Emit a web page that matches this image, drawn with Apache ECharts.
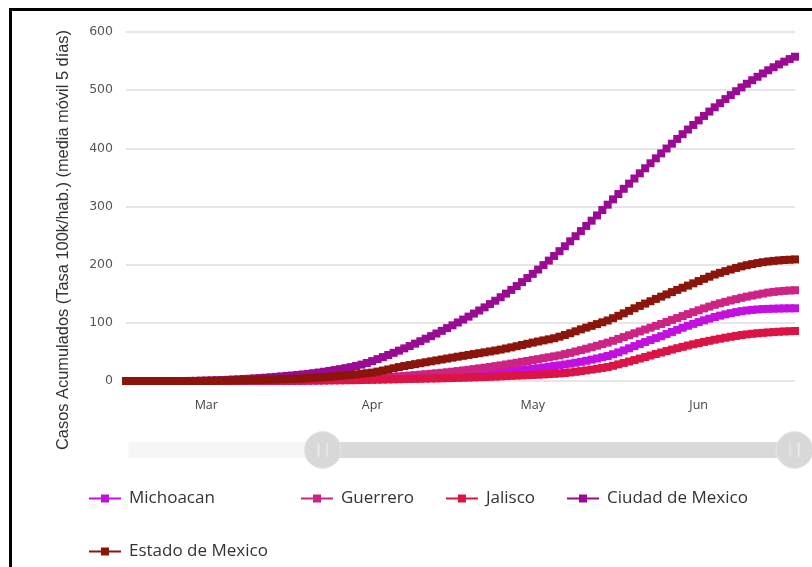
<!DOCTYPE html>
<html>
<head>
<meta charset="utf-8">
<script src="https://cdn.jsdelivr.net/npm/echarts@6/dist/echarts.min.js"></script>
<style>
html,body{margin:0;padding:0;background:#fff;overflow:hidden;width:812px;height:567px}
#frame{position:absolute;left:9px;top:8px;width:1000px;height:800px;border-left:3px solid #000;border-top:3px solid #000;box-sizing:border-box}
#chart{position:absolute;left:0;top:0;width:812px;height:567px}
</style>
</head>
<body>
<div id="frame"></div>
<div id="chart"></div>
<script>
// ---- data (daily values from 2020-02-15 to 2020-06-19) ----
const firstDate = '2019-12-26';      // first day of the full (zoomable) range
const visibleStart = '2020-02-15';
const visibleEnd = '2020-06-19';
const monthLabels = ['Jan','Feb','Mar','Apr','May','Jun','Jul','Aug','Sep','Oct','Nov','Dec'];
const seriesNames = ['Michoacan','Guerrero','Jalisco','Ciudad de Mexico','Estado de Mexico'];
const seriesColors = ['#c30fe0','#cc2384','#dc1446','#9a0a92','#8b140b'];
const yAxisTitle = 'Casos Acumulados (Tasa 100k/hab.) (media móvil 5 días)';

const michoacan = [0,0,0,0,0,0,0,0,0,0,0,0,0,0,0,0,
0.1,0.1,0.1,0.2,0.2,0.2,0.3,0.3,0.4,0.4,0.5,0.5,0.6,0.7,0.8,0.8,0.9,1.0,
1.1,1.2,1.3,1.4,1.6,1.7,1.9,2.0,2.2,2.4,2.6,2.8,3.0,
3.3,3.6,3.9,4.2,4.6,5.0,5.4,5.8,6.3,6.8,7.3,7.8,8.4,9.0,
9.6,10.3,11.0,11.7,12.4,13.1,13.8,14.5,15.2,16.0,
16.8,17.6,18.4,19.2,20.1,21.0,
22.1,23.3,24.5,25.7,27.0,
28.4,29.9,31.4,33.0,
34.8,36.7,38.7,40.8,43.0,
46.0,49.2,52.6,56.2,60.0,
63.5,67.0,70.4,73.7,77.0,
80.7,84.4,88.0,91.6,95.0,
98.2,101.3,104.3,107.2,110.0,
112.4,114.6,116.6,118.4,120.0,
121.2,122.2,123.0,123.6,124.0,
124.3,124.6,124.8,124.9,125.0];

const guerrero = [0,0,0,0,0,0,0,0,0,0,0,0,0,0,
0.1,0.1,0.1,0.2,0.2,0.2,0.3,0.3,0.4,0.4,0.5,0.6,0.7,0.8,0.9,1.0,1.1,1.2,1.4,1.5,
1.7,1.9,2.1,2.3,2.5,2.7,3.0,3.2,3.5,3.8,4.1,4.5,4.9,
5.5,6.1,6.7,7.3,8.0,
8.7,9.4,10.1,10.9,11.7,12.5,13.3,14.1,15.0,
16.0,17.1,18.2,19.3,20.5,21.7,22.9,24.2,25.5,26.9,
28.4,29.9,31.4,32.9,34.4,36.0,
37.6,39.2,40.8,42.4,44.0,
46.2,48.4,50.7,53.0,
55.5,58.0,60.6,63.3,66.0,
69.1,72.3,75.5,78.7,82.0,
85.2,88.4,91.6,94.8,98.0,
101.4,104.8,108.2,111.6,115.0,
118.3,121.6,124.8,127.9,131.0,
133.6,136.1,138.5,140.8,143.0,
145.0,146.9,148.6,150.3,152.0,
153.2,154.2,155.0,155.6,156.0];

const jalisco = [0,0,0,0,0,0,0,0,0,0,0,0,0,0,0,0,0,0,
0.1,0.1,0.1,0.1,0.2,0.2,0.2,0.2,0.3,0.3,0.3,0.4,0.4,0.4,0.5,0.5,
0.6,0.7,0.8,0.9,1.0,1.1,1.2,1.3,1.4,1.5,1.7,1.9,2.1,2.3,2.5,2.7,2.9,3.1,
3.3,3.5,3.7,3.9,4.1,4.3,4.5,4.7,4.9,5.1,5.4,5.7,6.0,6.3,6.6,6.9,7.2,7.6,8.0,
8.4,8.8,9.2,9.6,10.0,10.4,10.8,11.3,11.8,12.4,13.0,
13.8,14.7,15.8,17.0,
18.3,19.7,21.1,22.5,24.0,
26.2,28.6,31.0,33.5,36.0,
38.6,41.2,43.8,46.4,49.0,
51.5,54.0,56.4,58.7,61.0,
63.1,65.2,67.2,69.1,71.0,
72.7,74.4,76.0,77.5,79.0,
80.1,81.2,82.1,82.8,83.5,
84.1,84.7,85.2,85.6,86.0];

const ciudadMexico = [0,0,0,0,0,0,0,0,0,0,0,0,
0.1,0.2,0.4,0.6,0.9,1.2,1.6,2.0,2.5,
2.9,3.4,3.9,4.5,5.1,5.7,6.4,7.1,7.9,8.7,9.5,10.4,11.3,
12.3,13.4,14.6,15.9,17.3,18.8,20.4,22.1,23.9,25.8,28.2,31.0,34.2,
37.6,41.1,44.7,48.4,52.2,
56.1,60.1,64.2,68.4,72.7,
77.1,81.6,86.2,90.9,95.7,
100.6,105.6,110.7,115.9,121.2,
126.6,132.2,138.0,144.0,
150.2,156.6,163.2,170.0,177.0,
184.2,191.6,199.2,207.0,215.0,
223.2,231.6,240.2,248.9,257.7,
266.6,275.6,284.7,293.9,
303.1,312.3,321.4,330.4,339.3,348.1,
357.0,365.7,374.3,382.8,391.3,399.7,408.0,416.2,424.3,432.3,440.2,448.0,455.7,
463.2,470.5,477.6,484.6,491.5,498.2,504.7,511.0,517.1,523.0,528.7,
534.2,539.4,544.3,549.0,553.4,557.5];

const estadoMexico = [0,0,0,0,0,0,0,0,0,0,0,0,
0.1,0.1,0.2,
0.3,0.4,0.5,0.6,0.8,1.0,1.2,1.4,1.6,1.8,2.0,2.2,2.4,2.7,3.0,3.3,3.6,4.0,4.4,
4.9,5.4,6.0,6.6,7.3,8.0,8.8,9.6,10.5,11.4,12.4,13.4,14.5,
16.2,18.0,19.9,21.9,23.9,25.7,27.4,29.0,30.6,32.2,33.8,35.4,37.0,38.6,40.2,41.8,43.3,44.8,46.3,47.8,49.3,50.8,52.4,54.0,
55.9,57.8,59.8,61.9,64.0,66.0,67.9,69.8,71.6,73.5,
76.2,79.1,82.1,85.4,88.8,91.8,94.8,97.8,100.9,104.0,
108.0,112.1,116.3,120.6,125.0,129.1,133.1,137.1,141.1,145.0,
148.9,152.8,156.6,160.3,164.0,167.9,171.8,175.6,179.3,183.0,
186.0,188.9,191.7,194.4,197.0,199.1,201.0,202.7,204.2,205.5,
206.5,207.3,208.0,208.5,209.0];

const seriesValues = [michoacan, guerrero, jalisco, ciudadMexico, estadoMexico];

// ---- build category dates ----
function isoDay(t){ const d = new Date(t); return d.toISOString().slice(0,10); }
const DAY = 86400000;
const categories = [];
for (let t = Date.parse(firstDate + 'T00:00:00Z'); t <= Date.parse(visibleEnd + 'T00:00:00Z'); t += DAY) {
  categories.push(isoDay(t));
}
const startIdx = categories.indexOf(visibleStart);
const endIdx = categories.indexOf(visibleEnd);

const series = seriesNames.map((name, i) => ({
  name: name,
  type: 'line',
  data: seriesValues[i].map((v, k) => [categories[startIdx + k], v]),
  symbol: 'rect',
  symbolSize: 8,
  showAllSymbol: true,
  smooth: true,
  lineStyle: { width: 3, color: seriesColors[i] },
  itemStyle: { color: seriesColors[i] },
  emphasis: { disabled: true }
}));

const legendBase = {
  padding: 0,
  itemGap: 31,
  itemWidth: 32,
  itemHeight: 10,
  textStyle: { fontSize: 17, color: '#333', fontFamily: 'Open Sans', padding: [0, 0, 0, 3] }
};

const chart = echarts.init(document.getElementById('chart'), null, { renderer: 'canvas' });
chart.setOption({
  animation: false,
  backgroundColor: 'transparent',
  color: seriesColors,
  grid: { left: 126, right: 17, top: 32, bottom: 186 },
  xAxis: {
    type: 'category',
    data: categories,
    boundaryGap: false,
    axisLine: { show: false },
    axisTick: { show: false },
    splitLine: { show: false },
    axisLabel: {
      interval: (idx, val) => val.slice(8) === '01',
      formatter: (val) => monthLabels[parseInt(val.slice(5, 7), 10) - 1],
      color: '#444',
      fontSize: 12.5,
      fontFamily: 'Open Sans',
      margin: 18
    }
  },
  yAxis: {
    type: 'value',
    min: 0, max: 600, interval: 100,
    axisLine: { show: false },
    axisTick: { show: false },
    splitLine: { lineStyle: { color: '#e6e6e6', width: 2 } },
    axisLabel: { color: '#555', fontSize: 12.5, fontFamily: 'DejaVu Sans', margin: 13 }
  },
  dataZoom: [{
    type: 'slider',
    xAxisIndex: 0,
    startValue: startIdx,
    endValue: endIdx,
    left: 127, right: 18, top: 442, height: 16,
    showDetail: false,
    showDataShadow: false,
    brushSelect: false,
    moveHandleSize: 0,
    borderColor: 'transparent',
    borderRadius: 8,
    backgroundColor: '#f6f6f6',
    fillerColor: '#d9d9d9',
    handleIcon: 'path://M50,0A50,50 0 1,1 50,100A50,50 0 1,1 50,0Z M37,32L37,68L40,68L40,32Z M60,32L60,68L63,68L63,32Z',
    handleSize: '230%',
    handleStyle: { color: '#d8d8d8', borderColor: '#e6e6e6', borderWidth: 1 },
    emphasis: { handleStyle: { color: '#d8d8d8', borderColor: '#e6e6e6' } }
  }],
  legend: [
    Object.assign({}, legendBase, { data: [seriesNames[0]], left: 88, top: 490 }),
    Object.assign({}, legendBase, { data: seriesNames.slice(1, 4), left: 300, top: 490 }),
    Object.assign({}, legendBase, { data: [seriesNames[4]], left: 88, top: 543 })
  ],
  graphic: [{
    type: 'text',
    x: 63, y: 240,
    rotation: Math.PI / 2,
    style: {
      text: yAxisTitle,
      fill: '#333',
      font: '16.4px "Liberation Sans", Arial, sans-serif',
      align: 'center',
      verticalAlign: 'middle'
    }
  }],
  series: series
});
</script>
</body>
</html>
